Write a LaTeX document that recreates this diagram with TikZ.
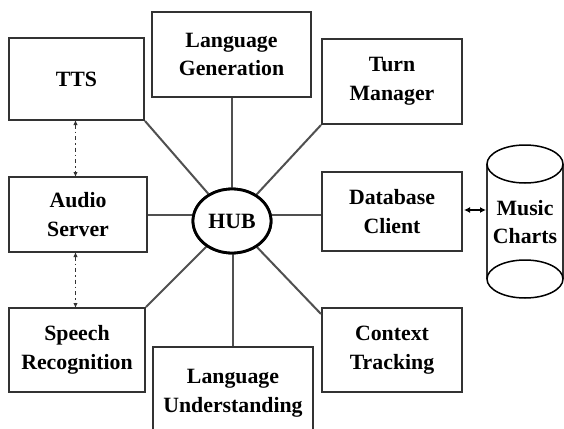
\documentclass[tikz,border=0pt]{standalone}
\usepackage{fontspec}
\setmainfont{Liberation Serif}
\usetikzlibrary{shapes.geometric,arrows.meta}
\definecolor{boxline}{HTML}{333333}
\definecolor{spoke}{HTML}{505050}
\begin{document}
\begin{tikzpicture}[x=1pt,y=-1pt,
  every node/.style={font=\bfseries\fontsize{21.8}{28.5}\selectfont, align=center, text=black},
  modbox/.style={draw=boxline, line width=2pt, rectangle, inner sep=0pt, fill=white},
  spokeline/.style={draw=spoke, line width=2pt},
  hubnode/.style={draw=black, line width=2.8pt, ellipse, minimum width=78pt, minimum height=64pt, inner sep=0pt, fill=white},
  dda/.style={draw=boxline, line width=1.6pt, dash pattern=on 4pt off 3pt on 1.5pt off 3pt, {Latex[length=5pt,width=4.5pt]}-{Latex[length=5pt,width=4.5pt]}},
  dba/.style={draw=black, line width=1.5pt, {Latex[length=6pt,width=6pt]}-{Latex[length=6pt,width=6pt]}}
]
\useasboundingbox (0,0) rectangle (564,428);
\clip (0,0) rectangle (564,428);
\fill[white] (0,0) rectangle (564,428);

% module boxes
\node[modbox, minimum width=135pt, minimum height=82pt] (tts) at (76.5,79) {TTS};
\node[modbox, minimum width=159pt, minimum height=85pt] (lg) at (231.5,54.5) {Language\\Generation};
\node[modbox, minimum width=140pt, minimum height=85pt] (tm) at (392,81.5) {Turn\\Manager};
\node[modbox, minimum width=138pt, minimum height=75pt] (as) at (78,214.5) {Audio\\Server};
\node[modbox, minimum width=140pt, minimum height=79pt] (db) at (392,211.5) {Database\\Client};
\node[modbox, minimum width=136pt, minimum height=84pt] (sr) at (77,350) {Speech\\Recognition};
\node[modbox, minimum width=160pt, minimum height=93pt] (lu) at (233,393.5) {Language\\Understanding};
\node[modbox, minimum width=140pt, minimum height=84pt] (ct) at (392,350) {Context\\Tracking};

\node[hubnode] (hub) at (232,221) {};

% spokes
\draw[spokeline] (lg.south) -- (lg.south |- hub.north);
\draw[spokeline] (lu.north) -- (lu.north |- hub.south);
\draw[spokeline] (as.east) -- (as.east -| hub.west);
\draw[spokeline] (db.west |- as.east) -- (as.east -| hub.east);
\draw[spokeline] (tts.south east) -- (hub);
\draw[spokeline] (tm.south west) -- (hub);
\draw[spokeline] (sr.north east) -- (hub);
\draw[spokeline] ([yshift=-7pt]ct.north west) -- (hub);

% hub on top
\node[hubnode] (hub2) at (hub) {HUB};

% dash-dot double arrows
\coordinate (d1) at ([xshift=-1pt]tts.south);
\draw[dda] ([yshift=1pt]d1) -- ([yshift=-1pt]d1 |- as.north);
\draw[dda] ([yshift=1pt]d1 |- as.south) -- ([yshift=-1pt]d1 |- sr.north);

% cylinder
\draw[draw=boxline, line width=1.5pt] (487,164) -- (487,279);
\draw[draw=boxline, line width=1.5pt] (563,164) -- (563,279);
\draw[draw=black, line width=1.5pt, fill=white] (525,164) ellipse [x radius=38pt, y radius=19pt];
\draw[draw=black, line width=1.5pt] (525,279) ellipse [x radius=38pt, y radius=19pt];
\node (mc) at (525,222) {Music\\Charts};
\coordinate (cylw) at (487,210);

\draw[dba] ([xshift=1pt]db.east |- cylw) -- ([xshift=-1pt]cylw);
\end{tikzpicture}
\end{document}
